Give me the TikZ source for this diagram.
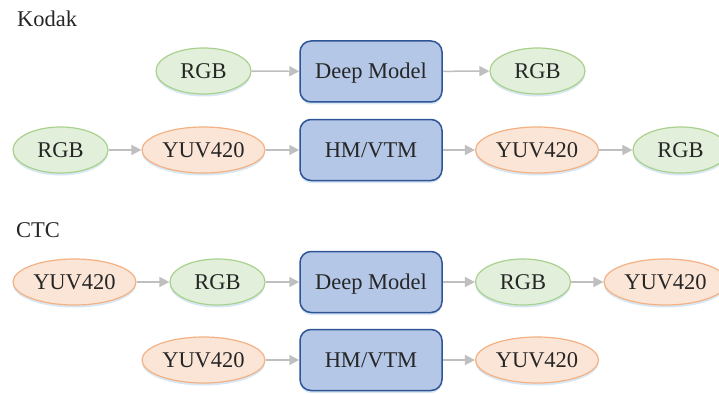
\documentclass[tikz,border=0pt]{standalone}
\usepackage{fontspec}
\setmainfont{Liberation Serif}
\usetikzlibrary{shapes.geometric,arrows.meta,shadows}
\definecolor{gfill}{HTML}{E2EFDA}
\definecolor{gline}{HTML}{A9D18E}
\definecolor{ofill}{HTML}{FBE5D6}
\definecolor{oline}{HTML}{F4B183}
\definecolor{bfill}{HTML}{B4C7E7}
\definecolor{bline}{HTML}{2F5597}
\definecolor{arr}{HTML}{BFBFBF}
\definecolor{shad}{HTML}{BDD7EE}
\tikzset{
  base/.style={inner sep=0pt, font=\fontsize{22.5}{24}\selectfont, text=black!85,
    text height=15pt, text depth=0pt,
    drop shadow={shadow xshift=0pt, shadow yshift=-2.5pt, fill=shad, opacity=0.6}},
  rgb/.style={base, ellipse, draw=gline, fill=gfill, line width=1.2pt, minimum width=95pt, minimum height=46pt},
  yuv/.style={base, ellipse, draw=oline, fill=ofill, line width=1.2pt, minimum width=123pt, minimum height=46pt},
  proc/.style={base, rounded corners=11pt, draw=bline, fill=bfill, line width=1.5pt, minimum width=142pt, minimum height=61pt},
  flow/.style={draw=arr, line width=1.5pt, -{Triangle[length=10pt,width=10pt]}},
  lbl/.style={inner sep=0pt, anchor=base west, font=\fontsize{22.5}{24}\selectfont, text=black!85}
}
\begin{document}
\begin{tikzpicture}[x=1pt,y=-1pt]
\useasboundingbox[fill=white] (0,0) rectangle (719,393);
\node[lbl] (kodak) at (17,27) {Kodak};
\node[lbl] (ctc) at (16,237) {CTC};
% row 1
\node[rgb] (r1a) at (203.5,71) {RGB};
\node[proc] (dm1) at (371,71.5) {Deep Model};
\node[rgb] (r1b) at (537.5,71) {RGB};
% row 2
\node[rgb] (r2a) at (60.5,150) {RGB};
\node[yuv] (y2a) at (203.5,150) {YUV420};
\node[proc] (hm1) at (371,150) {HM/VTM};
\node[yuv] (y2b) at (537,150) {YUV420};
\node[rgb] (r2b) at (680.5,150) {RGB};
% row 3
\node[yuv] (y3a) at (74.5,282) {YUV420};
\node[rgb] (r3a) at (217.5,282) {RGB};
\node[proc] (dm2) at (371,282) {Deep Model};
\node[rgb] (r3b) at (523,282) {RGB};
\node[yuv] (y3b) at (665.5,282) {YUV420};
% row 4
\node[yuv] (y4a) at (203.5,360) {YUV420};
\node[proc] (hm2) at (371,360) {HM/VTM};
\node[yuv] (y4b) at (537,360) {YUV420};
% arrows
\draw[flow] (r1a) -- (dm1);
\draw[flow] (dm1) -- (r1b);
\draw[flow] (r2a) -- (y2a);
\draw[flow] (y2a) -- (hm1);
\draw[flow] (hm1) -- (y2b);
\draw[flow] (y2b) -- (r2b);
\draw[flow] (y3a) -- (r3a);
\draw[flow] (r3a) -- (dm2);
\draw[flow] (dm2) -- (r3b);
\draw[flow] (r3b) -- (y3b);
\draw[flow] (y4a) -- (hm2);
\draw[flow] (hm2) -- (y4b);
\end{tikzpicture}
\end{document}
